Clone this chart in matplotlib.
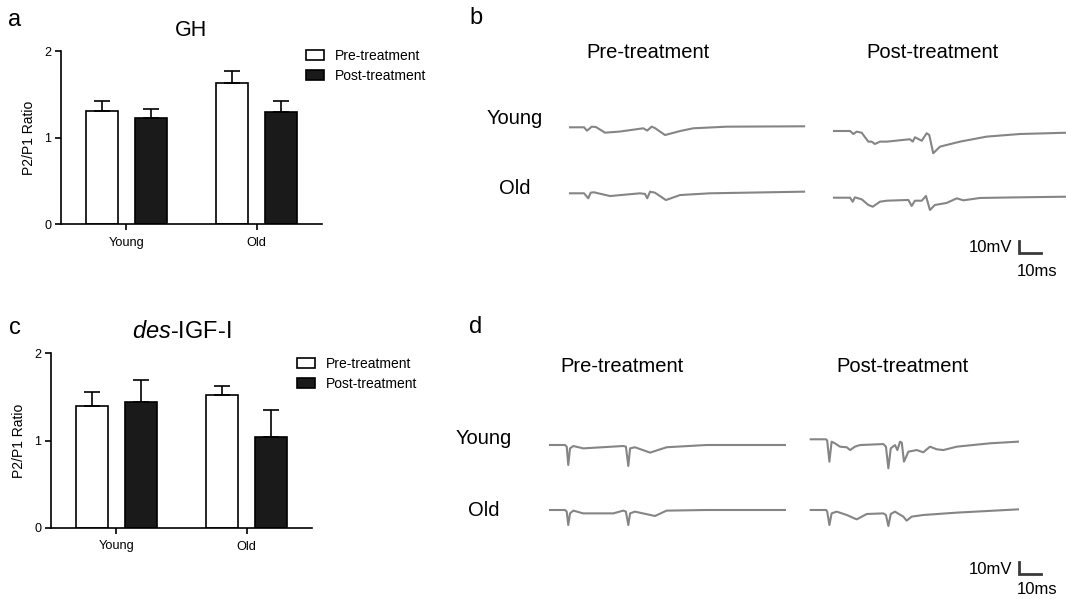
import numpy as np
import matplotlib.pyplot as plt
from matplotlib.patches import Patch

plt.rcParams['font.family'] = ['Liberation Sans', 'DejaVu Sans']
plt.rcParams['mathtext.fontset'] = 'custom'
plt.rcParams['mathtext.it'] = 'Liberation Sans:italic'
plt.rcParams['mathtext.rm'] = 'Liberation Sans'

# ---- bar data (P2/P1 ratio, mean and upper SEM) ----
groups = ['Young', 'Old']
series = ['Pre-treatment', 'Post-treatment']

gh_pre = [1.31, 1.63]
gh_pre_err = [0.115, 0.135]
gh_post = [1.22, 1.30]
gh_post_err = [0.11, 0.125]

igf_pre = [1.39, 1.52]
igf_pre_err = [0.16, 0.105]
igf_post = [1.44, 1.04]
igf_post_err = [0.25, 0.305]

# ---- example traces (time in ms, voltage in mV relative to baseline) ----
# GH
gh_pre_young_t = [0, 6.4, 7.7, 9.9, 11.8, 15.9, 22.7, 33.3, 35.1, 37.1, 38.6, 43.2, 50.0, 56.0, 71.2, 106.4]
gh_pre_young_mv = [0, 0, -2.7, 0.5, 0.2, -4.3, -3.4, -0.8, -2.6, 0.5, -0.6, -6.2, -3.0, -0.8, 0.5, 0.8]
gh_pre_old_t = [0, 6.4, 8.3, 9.4, 10.9, 18.2, 31.8, 34.1, 35.1, 36.4, 38.6, 43.6, 50.0, 63.6, 106.4]
gh_pre_old_mv = [0, 0, -4.0, 0.5, 0.8, -2.2, 0, -0.5, -4.0, 1.3, 0.5, -5.4, -1.4, 0, 1.3]
gh_post_young_t = [0, 7.3, 8.8, 10.3, 12.6, 15.6, 17.1, 18.6, 20.9, 24.0, 34.5, 35.8, 36.8, 39.9,
                   42.1, 43.3, 45.1, 48.2, 57.3, 69.4, 84.5, 105.5]
gh_post_young_mv = [0, 0, -2.4, -0.5, -1.4, -8.5, -8.5, -10.4, -8.5, -8.5, -6.6, -8.5, -5.0, -7.8,
                    -1.8, -3.2, -17.8, -12.5, -8.5, -4.5, -2.4, -1.4]
gh_post_old_t = [0, 7.3, 8.5, 9.5, 12.6, 15.6, 17.6, 20.9, 24.0, 33.8, 35.3, 36.8, 39.9, 41.8,
                 43.6, 45.9, 51.2, 55.8, 58.8, 66.4, 84.5, 105.5]
gh_post_old_mv = [0, 0, -3.2, 0.3, -1.3, -5.8, -7.2, -3.2, -2.4, -1.8, -6.6, -2.4, -2.4, 1.4,
                  -9.8, -5.8, -4.2, -0.5, -2.1, -0.2, 0.3, 0.8]
# des-IGF-I
igf_pre_young_t = [0, 6.8, 7.6, 8.3, 9.1, 10.6, 15.1, 33.3, 34.5, 35.6, 36.4, 38.6, 45.5, 53.0, 71.2, 106.8]
igf_pre_young_mv = [0, 0, -1.3, -16.0, -2.7, -0.8, -2.7, -0.8, -1.3, -16.8, -2.7, -1.8, -6.1, -1.8, 0, 0]
igf_pre_old_t = [0, 6.8, 7.6, 8.3, 9.1, 10.6, 15.1, 28.8, 33.3, 34.5, 35.6, 36.4, 38.6, 47.7, 53.0, 71.2, 106.8]
igf_pre_old_mv = [0, 0, -1.3, -12.0, -2.7, -0.5, -2.7, -2.7, -0.5, -1.3, -12.0, -2.7, -1.3, -4.8, -0.5, 0, 0]
igf_post_young_t = [0, 7.0, 7.5, 8.5, 9.5, 11.0, 13.3, 16.4, 17.9, 20.1, 22.4, 33.0, 34.2, 35.3, 36.4,
                    38.3, 39.4, 40.6, 41.4, 42.4, 44.4, 48.2, 51.2, 54.2, 57.3, 60.3, 66.4, 81.5, 94.2]
igf_post_young_mv = [0, 0, -1.1, -17.9, -1.9, -3.2, -5.9, -6.4, -8.6, -5.9, -4.6, -3.8, -5.9, -23.2, -7.2,
                     -4.6, -8.6, -1.9, -2.7, -17.9, -9.9, -8.6, -10.4, -5.9, -8.0, -8.6, -5.9, -3.2, -1.9]
igf_post_old_t = [0, 7.0, 7.5, 8.5, 9.5, 11.8, 16.4, 20.9, 25.5, 33.0, 34.2, 35.3, 36.4, 38.3, 42.1,
                  43.6, 45.9, 51.2, 66.4, 94.2]
igf_post_old_mv = [0, 0, -1.3, -12.0, -2.7, -1.3, -4.0, -7.5, -3.2, -2.7, -4.0, -12.8, -3.2, -1.3, -5.3,
                   -8.5, -5.3, -4.0, -2.1, 0.5]

W, H = 1066, 599
fig = plt.figure(figsize=(W / 100, H / 100), dpi=100)


def px_axes(left, top, right, bottom, **kw):
    return fig.add_axes([left / W, 1 - bottom / H, (right - left) / W, (bottom - top) / H], **kw)


def ftext(x, y, s, **kw):
    return fig.text(x / W, 1 - y / H, s, **kw)


def bar_panel(ax, pre, pre_err, post, post_err, title, leg_xy):
    x = np.arange(len(groups))
    w, off = 0.243, 0.188
    ekw = dict(ecolor='black', elinewidth=1.2, capthick=1.2)
    ax.bar(x - off, pre, w, yerr=[np.zeros(len(pre)), pre_err], capsize=6,
           color='white', edgecolor='black', linewidth=1.2, error_kw=ekw)
    ax.bar(x + off, post, w, yerr=[np.zeros(len(post)), post_err], capsize=6,
           color='#1a1a1a', edgecolor='black', linewidth=1.2, error_kw=ekw)
    ax.set_xlim(-0.5, 1.5)
    ax.set_ylim(0, 2)
    ax.set_yticks([0, 1, 2])
    ax.set_xticks(x)
    ax.set_xticklabels(groups, fontsize=9.2)
    ax.tick_params(axis='y', labelsize=9, length=4, width=1.2, pad=3)
    ax.tick_params(axis='x', length=4, width=1.2, pad=5)
    for s in ['top', 'right']:
        ax.spines[s].set_visible(False)
    for s in ['left', 'bottom']:
        ax.spines[s].set_linewidth(1.2)
    ax.set_ylabel('P2/P1 Ratio', fontsize=10, labelpad=6)
    ax.set_title(title, pad=11)
    handles = [Patch(facecolor='white', edgecolor='black', linewidth=1.2),
               Patch(facecolor='#1a1a1a', edgecolor='black', linewidth=1.2)]
    fig.legend(handles, series, loc='upper left',
               bbox_to_anchor=(leg_xy[0] / W, 1 - leg_xy[1] / H),
               frameon=False, fontsize=10, handlelength=1.3, handleheight=0.75,
               handletextpad=0.8, labelspacing=0.45, borderpad=0, borderaxespad=0)


ax_a = px_axes(61, 51, 322, 224)
bar_panel(ax_a, gh_pre, gh_pre_err, gh_post, gh_post_err, 'GH', (306, 49))
ax_a.title.set_fontsize(15.5)

ax_c = px_axes(51, 353, 312, 528)
bar_panel(ax_c, igf_pre, igf_pre_err, igf_post, igf_post_err, r'$\mathit{des}$-IGF-I', (297, 357))
ax_c.title.set_fontsize(17)

# ---- trace panels: 1 ms = 2.2 px, 1 mV = 1.25 px ----
MS_PX, MV_PX = 2.2, 1.25
tr = fig.add_axes([0, 0, 1, 1], zorder=-1)
tr.set_xlim(0, W / MS_PX)
tr.set_ylim(0, H / MV_PX)
tr.axis('off')

traces = [
    (gh_pre_young_t, gh_pre_young_mv, 570, 127.3),
    (gh_pre_old_t, gh_pre_old_mv, 570, 193.3),
    (gh_post_young_t, gh_post_young_mv, 834, 131),
    (gh_post_old_t, gh_post_old_mv, 834, 197.7),
    (igf_pre_young_t, igf_pre_young_mv, 550, 445),
    (igf_pre_old_t, igf_pre_old_mv, 550, 510),
    (igf_post_young_t, igf_post_young_mv, 810.7, 439.3),
    (igf_post_old_t, igf_post_old_mv, 810.7, 510),
]
for t, mv, x0, y0 in traces:
    tr.plot(np.array(t) + x0 / MS_PX, np.array(mv) + (H - y0) / MV_PX,
            color='#858585', lw=1.5, solid_joinstyle='round')

# scale bars: 10 mV / 10 ms
for bx, by, ms_dy in [(1019, 253, 19), (1019, 574, 16)]:
    x0, y0 = bx / MS_PX, (H - by) / MV_PX
    tr.plot([x0, x0, x0 + 10], [y0 + 10, y0, y0], color='#3a3a3a', lw=2.0,
            solid_joinstyle='miter')
    ftext(bx - 7, by - 5, '10mV', ha='right', va='center', fontsize=12)
    ftext(bx + 18, by + ms_dy, '10ms', ha='center', va='center', fontsize=12)

# labels
ftext(15, 20, 'a', ha='center', va='center', fontsize=17)
ftext(15, 328, 'c', ha='center', va='center', fontsize=17)
ftext(476, 18, 'b', ha='center', va='center', fontsize=17)
ftext(476, 327, 'd', ha='center', va='center', fontsize=17)

ftext(648, 53, 'Pre-treatment', ha='center', va='center', fontsize=14.5)
ftext(932, 53, 'Post-treatment', ha='center', va='center', fontsize=14.5)
ftext(515, 118, 'Young', ha='center', va='center', fontsize=14.5)
ftext(515, 188, 'Old', ha='center', va='center', fontsize=14.5)

ftext(622, 367, 'Pre-treatment', ha='center', va='center', fontsize=14.5)
ftext(902, 367, 'Post-treatment', ha='center', va='center', fontsize=14.5)
ftext(484, 438, 'Young', ha='center', va='center', fontsize=14.5)
ftext(484, 510, 'Old', ha='center', va='center', fontsize=14.5)

fig.savefig('out.png', dpi=100)
